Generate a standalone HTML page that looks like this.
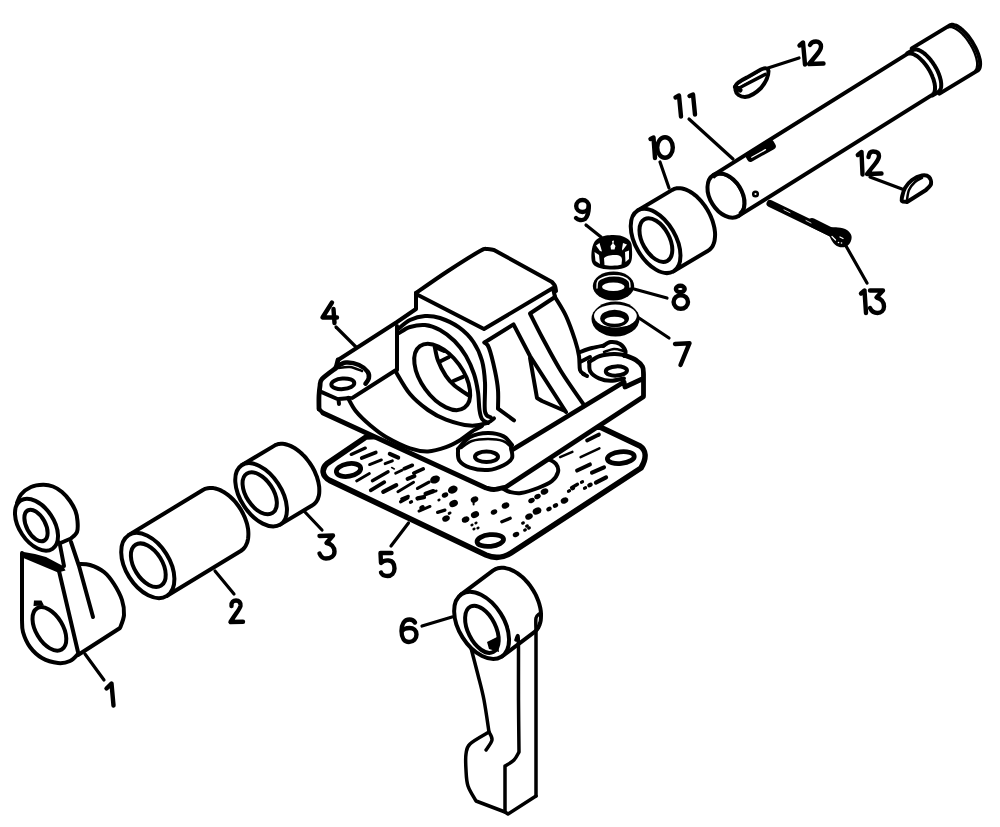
<!DOCTYPE html>
<html><head><meta charset="utf-8"><title>Exploded view</title>
<style>
html,body{margin:0;padding:0;background:#fff;}
body{width:1000px;height:827px;overflow:hidden;}
svg{display:block;}
.l{fill:none;stroke:#000;stroke-width:4;stroke-linecap:round;stroke-linejoin:round;}
.w{fill:#fff;stroke:#000;stroke-width:4;stroke-linecap:round;stroke-linejoin:round;}
.f{fill:#fff;stroke:none;}
.t{stroke-width:4.8!important;}
.g{stroke-width:5.6!important;}
.n{stroke-width:3.5!important;}
.k{fill:#000;stroke:none;}
.s{fill:none;stroke:#000;stroke-width:3;stroke-linecap:round;}
.d path,.d ellipse{fill:none;stroke:#000;stroke-width:4.4;stroke-linecap:round;stroke-linejoin:round;}
</style></head>
<body>
<svg width="1000" height="827" viewBox="0 0 1000 827">
<rect width="1000" height="827" fill="#fff"/>
<g id="p1">
<path class="f" d="M79.0,564.0 C80.8,564.2 85.8,563.7 90.0,565.0 C94.2,566.3 100.0,568.8 104.0,572.0 C108.0,575.2 111.0,579.3 114.0,584.0 C117.0,588.7 120.3,594.8 122.0,600.0 C123.7,605.2 124.3,610.3 124.0,615.0 C123.7,619.7 120.7,625.8 120.0,628.0 L78,655 L59,572 Z"/>
<path class="l" d="M79.0,564.0 C80.8,564.2 85.8,563.7 90.0,565.0 C94.2,566.3 100.0,568.8 104.0,572.0 C108.0,575.2 111.0,579.3 114.0,584.0 C117.0,588.7 120.3,594.8 122.0,600.0 C123.7,605.2 124.3,610.3 124.0,615.0 C123.7,619.7 120.7,625.8 120.0,628.0 L78,655"/>
<path class="f" d="M22,553 L63,569 L78,652 C76.7,653.5 73.3,659.2 70.0,661.0 C66.7,662.8 62.7,663.5 58.0,663.0 C53.3,662.5 46.7,660.7 42.0,658.0 C37.3,655.3 33.2,651.3 30.0,647.0 C26.8,642.7 24.3,636.5 23.0,632.0 C21.7,627.5 22.2,622.0 22.0,620.0 Z"/>
<path class="l" d="M22,553 L22,620 C22.2,622.0 21.7,627.5 23.0,632.0 C24.3,636.5 26.8,642.7 30.0,647.0 C33.2,651.3 37.3,655.3 42.0,658.0 C46.7,660.7 53.3,662.5 58.0,663.0 C62.7,663.5 66.7,662.5 70.0,661.0 C73.3,659.5 76.7,655.2 78.0,654.0"/>
<path class="l" d="M59,571 L78,652"/>
<path class="l" d="M71,542 L79,566 L93,617"/>
<path class="k" d="M21,551.5 L35,554 L46,557 L63,566 L65.5,570.5 L58,572.5 L21,557 Z"/>
<path class="l" d="M60,545 L64,566"/>
<path class="w" d="M17.0,503.0 C17.7,501.6 18.7,497.2 21.0,494.5 C23.3,491.8 27.3,488.6 31.0,487.0 C34.7,485.4 39.3,484.9 43.0,484.8 C46.7,484.7 49.8,485.3 53.0,486.5 C56.2,487.7 59.2,489.6 62.0,492.0 C64.8,494.4 67.8,497.8 70.0,501.0 C72.2,504.2 74.2,507.7 75.5,511.0 C76.8,514.3 77.2,517.5 77.5,521.0 C77.8,524.5 78.1,529.1 77.0,532.0 C75.9,534.9 72.0,537.4 71.0,538.5 L60.5,543 L40,535 Z"/>
<ellipse class="w" cx="36.5" cy="524.7" rx="17.3" ry="28.9" transform="rotate(-33.5 36.5 524.7)"/>
<ellipse class="l" cx="36" cy="525.5" rx="9.4" ry="17.2" transform="rotate(-28.4 36 525.5)"/>
<ellipse class="l" cx="49.4" cy="628.9" rx="13.5" ry="24" transform="rotate(-30.8 49.4 628.9)"/>
<path class="k" d="M33.5,606 L34,600.5 L41.5,600.5 L44,605.5 Z"/>
<path class="l" d="M85,654 L104,680" style="stroke-width:3.2"/>
</g>
<g id="p2">
<path class="w" d="M128.9,535.0 L202.9,490.0 L204.4,489.2 L206.0,488.6 L207.8,488.2 L209.6,488.0 L211.5,488.0 L213.4,488.1 L215.4,488.5 L217.5,489.1 L219.6,489.9 L221.7,490.9 L223.7,492.0 L225.8,493.4 L227.9,494.9 L229.9,496.5 L231.8,498.3 L233.8,500.2 L235.6,502.3 L237.3,504.5 L239.0,506.8 L240.5,509.1 L241.9,511.5 L243.2,514.0 L244.4,516.6 L245.4,519.1 L246.3,521.7 L247.1,524.2 L247.6,526.7 L248.1,529.2 L248.3,531.7 L248.4,534.0 L248.3,536.3 L248.1,538.5 L247.7,540.6 L247.2,542.5 L246.4,544.3 L245.6,546.0 L244.6,547.5 L243.4,548.9 L242.1,550.0 L240.7,551.0 L166.7,596.0 Z"/>
<ellipse class="w" cx="147.8" cy="565.5" rx="21.9" ry="35.9" transform="rotate(-32.1 147.8 565.5)"/>
<ellipse class="l" cx="148.3" cy="565.2" rx="14" ry="24.1" transform="rotate(-31.9 148.3 565.2)"/>
<path class="l" d="M215,571 L234,594" style="stroke-width:3.2"/>
</g>
<g id="p3">
<path class="w" d="M242.1,465.0 L274.5,445.6 L275.9,444.8 L277.5,444.3 L279.1,443.9 L280.8,443.8 L282.6,443.8 L284.5,444.0 L286.4,444.5 L288.4,445.1 L290.4,445.9 L292.4,446.9 L294.5,448.0 L296.5,449.4 L298.5,450.9 L300.5,452.5 L302.4,454.3 L304.3,456.2 L306.1,458.2 L307.8,460.4 L309.5,462.6 L311.0,464.9 L312.5,467.3 L313.8,469.7 L315.0,472.2 L316.0,474.7 L317.0,477.1 L317.7,479.6 L318.4,482.1 L318.8,484.5 L319.2,486.8 L319.3,489.1 L319.3,491.3 L319.2,493.4 L318.9,495.4 L318.4,497.2 L317.8,499.0 L317.0,500.5 L316.1,502.0 L315.0,503.2 L313.8,504.3 L312.5,505.2 L280.1,524.6 Z"/>
<ellipse class="w" cx="261.1" cy="494.8" rx="20.4" ry="35.4" transform="rotate(-33.3 261.1 494.8)"/>
<ellipse class="l" cx="259.7" cy="493.3" rx="13.5" ry="23.5" transform="rotate(-33.3 259.7 493.3)"/>
<path class="l" d="M304,511 L322,530" style="stroke-width:3.2"/>
</g>
<g id="p5">
<path class="w g" d="M327,463.6 L366,437 L600,427 L640,446 C646,450 647,458 641,468 L511,553 C503,558 495,559 486,555 L329.6,480.4 C322,476 321,469 327,463.6 Z"/>
<ellipse class="l" cx="348.5" cy="470" rx="12.3" ry="6.3" transform="rotate(-10 348.5 470)" style="stroke-width:4.8"/>
<ellipse class="l" cx="490.3" cy="540.5" rx="13.3" ry="5.8" transform="rotate(-6 490.3 540.5)" style="stroke-width:4.8"/>
<ellipse class="l" cx="620.8" cy="457.6" rx="13.5" ry="5.8" transform="rotate(-6 620.8 457.6)" style="stroke-width:4.8"/>
<path class="l" d="M548.0,459.0 C549.3,459.8 554.3,461.8 556.0,464.0 C557.7,466.2 558.7,469.2 558.0,472.0 C557.3,474.8 555.3,478.3 552.0,481.0 C548.7,483.7 543.2,486.0 538.0,488.0 C532.8,490.0 525.7,492.3 521.0,493.0 C516.3,493.7 513.2,492.8 510.0,492.0 C506.8,491.2 503.3,488.7 502.0,488.0"/>
<path class="s" d="M351.2,454.4 L365.3,448.1" style="stroke-width:3.28"/>
<path class="s" d="M361.7,458.0 L375.8,452.5" style="stroke-width:3.69"/>
<path class="s" d="M369.6,464.6 L381.4,459.9" style="stroke-width:2.87"/>
<path class="s" d="M385.1,463.7 L392.4,460.8" style="stroke-width:2.87"/>
<path class="s" d="M389.8,453.8 L398.2,457.7" style="stroke-width:4.1"/>
<path class="s" d="M391.7,467.6 L394.3,468.9" style="stroke-width:1.64"/>
<path class="s" d="M395.6,473.2 L401.9,470.3" style="stroke-width:2.87"/>
<path class="s" d="M404.2,468.7 L412.3,465.3" style="stroke-width:3.69"/>
<path class="s" d="M413.8,473.1 L423.2,468.9" style="stroke-width:3.69"/>
<path class="s" d="M407.6,478.8 L414.4,476.2" style="stroke-width:4.1"/>
<path class="s" d="M356.6,480.9 L369.4,473.6" style="stroke-width:2.87"/>
<path class="s" d="M372.4,480.7 L388.1,471.8" style="stroke-width:3.28"/>
<path class="s" d="M370.7,490.3 L384.3,482.2" style="stroke-width:3.69"/>
<path class="s" d="M383.2,491.9 L396.3,485.1" style="stroke-width:4.1"/>
<path class="s" d="M397.9,491.7 L413.6,482.3" style="stroke-width:2.87"/>
<path class="s" d="M417.5,488.4 L429.0,482.1" style="stroke-width:3.28"/>
<path class="s" d="M401.6,498.8 L408.4,496.2" style="stroke-width:2.87"/>
<path class="s" d="M425.7,493.8 L433.3,491.2" style="stroke-width:4.51"/>
<path class="s" d="M417.6,498.4 L423.9,497.1" style="stroke-width:4.51"/>
<path class="s" d="M400.6,501.7 L407.9,497.8" style="stroke-width:3.28"/>
<path class="s" d="M419.0,511.1 L430.0,506.4" style="stroke-width:2.87"/>
<path class="s" d="M437.6,512.3 L444.9,510.2" style="stroke-width:3.28"/>
<path class="s" d="M501.8,521.7 L510.2,518.3" style="stroke-width:3.28"/>
<path class="s" d="M560.1,457.1 L572.4,451.9" style="stroke-width:2.46"/>
<path class="s" d="M587.0,440.5 L599.0,434.5" style="stroke-width:3.69"/>
<path class="s" d="M580.6,457.2 L599.4,448.3" style="stroke-width:2.46"/>
<path class="s" d="M577.1,470.5 L589.9,464.5" style="stroke-width:4.1"/>
<path class="s" d="M592.0,472.6 L604.0,467.4" style="stroke-width:4.1"/>
<path class="s" d="M595.9,482.6 L606.1,477.4" style="stroke-width:4.1"/>
<path class="s" d="M571.5,487.7 L577.5,484.3" style="stroke-width:3.28"/>
<ellipse class="k" cx="435" cy="479.5" rx="5.04" ry="3.825" transform="rotate(-25 435 479.5)"/>
<ellipse class="k" cx="436" cy="491" rx="1.68" ry="1.275" transform="rotate(-25 436 491)"/>
<ellipse class="k" cx="411" cy="502" rx="2.24" ry="1.7" transform="rotate(-25 411 502)"/>
<ellipse class="k" cx="422" cy="507.5" rx="2.8" ry="2.125" transform="rotate(-25 422 507.5)"/>
<ellipse class="k" cx="445" cy="495" rx="3.36" ry="2.55" transform="rotate(-25 445 495)"/>
<ellipse class="k" cx="439" cy="500" rx="1.68" ry="1.275" transform="rotate(-25 439 500)"/>
<ellipse class="k" cx="452.8" cy="489.6" rx="5.04" ry="3.825" transform="rotate(-25 452.8 489.6)"/>
<ellipse class="k" cx="453.6" cy="503.5" rx="4.48" ry="3.4" transform="rotate(-25 453.6 503.5)"/>
<ellipse class="k" cx="449.6" cy="513.2" rx="2.016" ry="1.53" transform="rotate(-25 449.6 513.2)"/>
<ellipse class="k" cx="446" cy="518.5" rx="3.92" ry="2.975" transform="rotate(-25 446 518.5)"/>
<ellipse class="k" cx="465.6" cy="519.5" rx="3.92" ry="2.975" transform="rotate(-25 465.6 519.5)"/>
<ellipse class="k" cx="475" cy="514.6" rx="4.256" ry="3.23" transform="rotate(-25 475 514.6)"/>
<ellipse class="k" cx="474.5" cy="499.5" rx="3.92" ry="2.975" transform="rotate(-25 474.5 499.5)"/>
<ellipse class="k" cx="505.5" cy="505.5" rx="3.92" ry="2.975" transform="rotate(-25 505.5 505.5)"/>
<ellipse class="k" cx="494" cy="512" rx="3.36" ry="2.55" transform="rotate(-25 494 512)"/>
<ellipse class="k" cx="472" cy="525" rx="1.68" ry="1.275" transform="rotate(-25 472 525)"/>
<ellipse class="k" cx="476" cy="523" rx="1.68" ry="1.275" transform="rotate(-25 476 523)"/>
<ellipse class="k" cx="478" cy="528" rx="1.68" ry="1.275" transform="rotate(-25 478 528)"/>
<ellipse class="k" cx="474" cy="529" rx="1.68" ry="1.275" transform="rotate(-25 474 529)"/>
<ellipse class="k" cx="531.5" cy="500.5" rx="3.36" ry="2.55" transform="rotate(-25 531.5 500.5)"/>
<ellipse class="k" cx="537.5" cy="496.5" rx="3.36" ry="2.55" transform="rotate(-25 537.5 496.5)"/>
<ellipse class="k" cx="544.5" cy="491.5" rx="3.92" ry="2.975" transform="rotate(-25 544.5 491.5)"/>
<ellipse class="k" cx="537" cy="511" rx="4.48" ry="3.4" transform="rotate(-25 537 511)"/>
<ellipse class="k" cx="529" cy="516.5" rx="3.92" ry="2.975" transform="rotate(-25 529 516.5)"/>
<ellipse class="k" cx="523" cy="523" rx="2.016" ry="1.53" transform="rotate(-25 523 523)"/>
<ellipse class="k" cx="527" cy="526" rx="2.016" ry="1.53" transform="rotate(-25 527 526)"/>
<ellipse class="k" cx="525" cy="530" rx="2.016" ry="1.53" transform="rotate(-25 525 530)"/>
<ellipse class="k" cx="529" cy="528" rx="2.016" ry="1.53" transform="rotate(-25 529 528)"/>
<ellipse class="k" cx="516" cy="534.5" rx="3.36" ry="2.55" transform="rotate(-25 516 534.5)"/>
<ellipse class="k" cx="569" cy="491" rx="2.24" ry="1.7" transform="rotate(-25 569 491)"/>
<ellipse class="k" cx="573" cy="488.5" rx="2.24" ry="1.7" transform="rotate(-25 573 488.5)"/>
<ellipse class="k" cx="549" cy="509" rx="2.8" ry="2.125" transform="rotate(-25 549 509)"/>
<ellipse class="k" cx="555.5" cy="505.5" rx="2.8" ry="2.125" transform="rotate(-25 555.5 505.5)"/>
<ellipse class="k" cx="564.5" cy="500.5" rx="3.92" ry="2.975" transform="rotate(-25 564.5 500.5)"/>
<ellipse class="k" cx="582" cy="482" rx="2.24" ry="1.7" transform="rotate(-25 582 482)"/>
<ellipse class="k" cx="585" cy="488" rx="2.24" ry="1.7" transform="rotate(-25 585 488)"/>
<ellipse class="k" cx="590" cy="485" rx="2.8" ry="2.125" transform="rotate(-25 590 485)"/>
<ellipse class="k" cx="530.5" cy="516.5" rx="1.68" ry="1.275" transform="rotate(-25 530.5 516.5)"/>
<path class="s" d="M473.6,502 L473.6,504.5" style="stroke-width:2"/>
<path class="l" d="M408.5,523 L391,546" style="stroke-width:3.2"/>
</g>
<g id="p4">
<path class="f" d="M319.0,386.0 L322.0,379.0 L336.0,368.0 L338.0,360.0 L416.0,309.0 L416.0,293.0 L480.0,251.0 L494.0,250.0 L552.0,283.0 L556.0,290.0 L555.0,297.0 L566.0,316.0 L575.0,340.0 L579.0,356.0 L580.0,370.0 L584.0,373.0 L589.0,362.0 L604.0,345.0 L611.0,342.0 L626.0,351.0 L636.0,360.0 L642.5,367.0 L643.5,374.0 L643.5,396.0 L639.6,397.7 L506.0,487.0 L494.0,489.5 L482.0,487.0 L323.0,413.0 L319.0,409.0 Z"/>
<path class="l" d="M338,360 L397,322 L416,309 L416,293"/>
<path class="l" d="M416.0,293.0 C421.3,289.3 437.3,278.0 448.0,271.0 C458.7,264.0 473.5,254.7 480.0,251.0 C486.5,247.3 484.7,249.2 487.0,249.0 C489.3,248.8 492.8,249.8 494.0,250.0 L552,282 C552.5,282.7 554.3,284.5 555.0,286.0 C555.7,287.5 555.8,290.2 556.0,291.0"/>
<path class="l" d="M416,294 L484,329 L553,288 L555,297"/>
<path class="l" d="M555.0,297.0 C556.8,300.2 562.7,308.8 566.0,316.0 C569.3,323.2 572.8,333.3 575.0,340.0 C577.2,346.7 578.2,351.0 579.0,356.0 C579.8,361.0 579.2,367.0 580.0,370.0 C580.8,373.0 583.3,373.3 584.0,374.0"/>
<path class="l" d="M555,297 L530,313.5 C532.1,317.6 537.4,328.5 542.5,338.0 C547.6,347.5 553.8,359.5 560.7,370.7 C567.6,381.9 580.1,399.3 584.0,405.0"/>
<path class="l" d="M484.5,342.5 L513.5,324.4 L530,356 L566,412"/>
<path class="l" d="M530.0,358.0 C530.6,361.3 532.3,371.3 533.5,378.0 C534.7,384.7 536.4,394.7 537.0,398.0 L542,401 L564,410.5"/>
<path class="l" d="M484.5,342.5 C485.2,343.4 487.2,343.2 489.0,348.0 C490.8,352.8 493.5,364.0 495.0,371.0 C496.5,378.0 497.5,383.7 498.0,390.0 C498.5,396.3 498.0,405.6 498.0,408.7 L514,420.3"/>
<path class="l t" d="M512,450 L624,382 L625,387 L641.6,379.3"/>
<path class="l t" d="M323,413 L486,488 C487.3,488.2 490.7,489.7 494.0,489.5 C497.3,489.3 504.0,487.4 506.0,487.0 L643,397"/>
<path class="l t" d="M319.0,409.0 C319.0,406.8 318.8,399.8 319.0,396.0 C319.2,392.2 319.5,388.8 320.0,386.0 C320.5,383.2 319.3,382.0 322.0,379.0 C324.7,376.0 333.7,369.8 336.0,368.0 L338,360"/>
<path class="l" d="M319,409 L323,413"/>
<path class="l" d="M320,391.3 L338.5,399.5 L339,404 M339,399 L350,398"/>
<path class="l" d="M336.0,367.0 C337.7,366.2 342.2,362.8 346.0,362.5 C349.8,362.2 355.4,363.4 359.0,365.0 C362.6,366.6 366.1,369.6 367.7,371.8 C369.3,374.0 369.2,376.3 368.8,378.3 C368.4,380.3 366.1,382.8 365.5,383.7" style="stroke-width:4.6"/>
<path class="l" d="M338.0,368.0 C340.0,367.8 346.0,366.5 350.0,367.0 C354.0,367.5 360.0,370.3 362.0,371.0" style="stroke-width:2.5"/>
<ellipse class="w" cx="342.8" cy="383.8" rx="11.5" ry="5.3" transform="rotate(-4 342.8 383.8)"/>
<path class="l" d="M352.4,397.9 L394.9,370.7 L397,370 L397,326"/>
<path class="l" d="M348.0,397.9 C349.3,400.1 351.9,406.3 355.7,411.0 C359.5,415.7 365.9,421.7 371.0,426.0 C376.1,430.3 379.5,433.3 386.0,437.0 C392.5,440.7 403.0,446.0 410.0,448.4 C417.0,450.8 422.0,451.6 428.0,451.4 C434.0,451.2 440.6,449.1 446.0,447.2 C451.4,445.3 455.8,442.8 460.4,440.0 C465.0,437.2 470.0,432.7 473.6,430.4 C477.2,428.1 480.6,426.7 482.0,426.0"/>
<path class="l" d="M396.0,372.0 C398.3,375.7 404.7,387.7 410.0,394.0 C415.3,400.3 422.0,405.7 428.0,410.0 C434.0,414.3 439.0,417.0 446.0,419.6 C453.0,422.2 463.2,425.0 470.0,425.6 C476.8,426.2 482.8,424.4 486.8,423.2 C490.8,422.0 492.8,419.2 494.0,418.4"/>
<path class="l" d="M398.0,329.0 C400.0,327.5 405.5,322.2 410.0,320.0 C414.5,317.8 420.0,316.3 425.0,316.0 C430.0,315.7 434.3,316.1 440.0,318.0 C445.7,319.9 453.4,323.4 459.0,327.4 C464.6,331.4 469.6,336.4 473.4,342.0 C477.2,347.6 480.1,354.0 482.0,360.8 C483.9,367.6 484.5,374.1 485.0,382.6 C485.5,391.1 484.0,405.8 485.0,411.6 C486.0,417.4 489.8,416.4 490.8,417.4"/>
<path class="l" d="M399.0,333.0 C400.8,332.0 405.7,328.3 410.0,327.0 C414.3,325.7 420.0,324.5 425.0,325.0 C430.0,325.5 435.1,327.3 440.0,330.0 C444.9,332.7 450.2,336.7 454.5,341.0 C458.8,345.3 462.8,350.5 466.0,356.0 C469.2,361.5 472.0,368.0 474.0,374.0 C476.0,380.0 477.1,386.0 478.0,392.0 C478.9,398.0 478.8,405.5 479.5,410.0 C480.2,414.5 480.6,416.8 482.0,419.0 C483.4,421.2 487.0,422.3 488.0,423.0"/>
<ellipse class="w" cx="442.2" cy="376.9" rx="20.9" ry="38" transform="rotate(-35.9 442.2 376.9)"/>
<path class="l" d="M434.8,347.0 C435.3,349.2 436.2,355.7 438.0,360.5 C439.8,365.3 443.0,371.5 445.7,375.7 C448.4,379.9 450.6,382.2 454.4,385.5 C458.2,388.8 466.1,393.7 468.5,395.3"/>
<path class="k" d="M433,346 L444,352 L436,349 Z"/>
<path class="l" d="M434.8,347 L444,351"/>
<path class="l" d="M440,361.5 L449,357 M453.3,381 L463,376.8"/>
<path class="f" d="M458.0,449.6 C458.2,451.4 457.2,457.4 459.2,460.4 C461.2,463.4 465.2,466.0 470.0,467.6 C474.8,469.2 482.4,470.4 488.0,470.0 C493.6,469.6 499.6,467.2 503.6,465.2 C507.6,463.2 510.8,460.4 512.0,458.0 C513.2,455.6 511.2,452.0 511.0,450.8"/>
<path class="w" d="M458,449 C460.0,447.0 465.0,439.7 470.0,437.0 C475.0,434.3 482.4,433.1 488.0,433.0 C493.6,432.9 499.6,434.4 503.6,436.4 C507.6,438.4 510.6,443.6 512.0,445.0"/>
<path class="l" d="M458.0,449.6 C458.2,451.4 457.2,457.4 459.2,460.4 C461.2,463.4 465.2,466.0 470.0,467.6 C474.8,469.2 482.4,470.4 488.0,470.0 C493.6,469.6 499.6,467.2 503.6,465.2 C507.6,463.2 510.8,460.9 512.0,458.0 C513.2,455.1 511.2,449.7 511.0,448.0"/>
<path class="l" d="M461.0,448.0 C462.8,446.8 467.5,442.5 472.0,441.0 C476.5,439.5 482.8,439.0 488.0,439.0 C493.2,439.0 499.2,439.7 503.0,441.0 C506.8,442.3 509.7,446.0 511.0,447.0" style="stroke-width:2.5"/>
<ellipse class="w" cx="486.5" cy="456.8" rx="11.5" ry="5.2"/>
<path class="l" d="M580.0,352.0 C582.0,351.3 588.0,349.1 592.0,348.0 C596.0,346.9 602.0,345.9 604.0,345.5"/>
<path class="l" d="M603.0,346.0 C604.3,345.3 607.8,342.3 610.6,342.0 C613.4,341.7 617.5,342.4 620.0,344.0 C622.5,345.6 624.9,349.3 625.6,351.3 C626.3,353.3 624.3,355.2 624.0,356.0"/>
<path class="l" d="M604.0,352.0 C605.7,351.5 610.7,349.2 614.0,349.0 C617.3,348.8 622.3,350.7 624.0,351.0" style="stroke-width:2.5"/>
<path class="l" d="M589.3,362.0 C589.5,363.6 588.7,368.9 590.3,371.6 C591.9,374.3 595.6,376.9 599.0,378.4 C602.4,379.9 606.4,380.8 610.6,380.8 C614.8,380.8 621.8,378.8 624.0,378.4"/>
<path class="l t" d="M624.0,355.0 C626.0,355.8 632.7,358.0 635.8,360.0 C638.9,362.0 641.2,364.5 642.5,366.8 C643.8,369.1 643.3,372.8 643.5,374.0 L643.5,396"/>
<path class="l" d="M589.0,362.0 C590.8,361.0 595.8,357.3 600.0,356.0 C604.2,354.7 610.0,354.2 614.0,354.0 C618.0,353.8 622.3,354.8 624.0,355.0"/>
<ellipse class="w" cx="616.4" cy="371" rx="10.6" ry="4.6" transform="rotate(-3 616.4 371)"/>
<path class="l" d="M580,362 L590,357 M583,374 L587,376"/>
<path class="l" d="M336,327 L356,347" style="stroke-width:3.2"/>
</g>
<g id="p6">
<path class="f" d="M472,640 L536,615 L536,796 L508,814 L476,801 C474.7,798.5 469.7,791.2 468.0,786.0 C466.3,780.8 466.3,775.3 466.0,770.0 C465.7,764.7 465.3,758.3 466.0,754.0 C466.7,749.7 466.2,747.7 470.0,744.0 C473.8,740.3 485.8,734.0 489.0,732.0 C488.2,726.7 485.8,709.5 484.0,700.0 C482.2,690.5 480.2,683.7 478.0,675.0 C475.8,666.3 472.2,652.5 471.0,648.0 Z"/>
<path class="l n" d="M471.0,648.0 C472.2,652.5 475.8,666.3 478.0,675.0 C480.2,683.7 482.2,690.5 484.0,700.0 C485.8,709.5 488.2,726.7 489.0,732.0 C485.8,734.0 473.8,740.3 470.0,744.0 C466.2,747.7 466.7,749.7 466.0,754.0 C465.3,758.3 465.7,764.7 466.0,770.0 C466.3,775.3 466.3,780.8 468.0,786.0 C469.7,791.2 474.7,798.5 476.0,801.0 L505,812 L508,814 L536,796"/>
<path class="l n" d="M489.0,732.0 C489.5,733.3 492.5,737.0 492.0,740.0 C491.5,743.0 487.0,748.3 486.0,750.0"/>
<path class="w" d="M460.9,594.6 L492.9,570.6 L494.4,569.7 L496.0,568.9 L497.7,568.3 L499.5,568.0 L501.4,567.8 L503.4,567.8 L505.4,568.1 L507.5,568.6 L509.6,569.2 L511.7,570.1 L513.9,571.1 L516.0,572.4 L518.2,573.8 L520.3,575.4 L522.3,577.1 L524.4,579.0 L526.3,581.1 L528.2,583.2 L530.0,585.5 L531.6,587.9 L533.2,590.3 L534.7,592.9 L536.0,595.4 L537.1,598.0 L538.2,600.7 L539.1,603.3 L539.8,605.9 L540.4,608.5 L540.8,611.1 L541.0,613.6 L541.0,616.0 L540.9,618.3 L540.7,620.6 L540.2,622.7 L539.6,624.6 L538.8,626.5 L537.9,628.2 L536.9,629.7 L535.6,631.0 L534.3,632.2 L502.3,656.2 Z"/>
<ellipse class="w" cx="481.6" cy="625.4" rx="22.5" ry="37.1" transform="rotate(-32.2 481.6 625.4)"/>
<ellipse class="l" cx="481.9" cy="629.3" rx="13.9" ry="25.4" transform="rotate(-26.4 481.9 629.3)"/>
<path class="k" d="M487,642 L497,637 L499,652 L489,649 Z"/>
<path class="l n" d="M516.0,640.0 C516.3,639.3 517.6,634.3 518.0,636.0 C518.4,637.7 518.4,639.3 518.5,650.0 C518.6,660.7 518.4,683.0 518.5,700.0 C518.6,717.0 518.9,743.3 519.0,752.0 C518.2,753.3 516.3,757.7 514.0,760.0 C511.7,762.3 506.5,765.0 505.0,766.0 L505,812"/>
<path class="l n" d="M539.0,614.0 C538.5,614.7 536.5,615.3 536.0,618.0 C535.5,620.7 536.0,628.0 536.0,630.0 L536,796"/>
<path class="l" d="M422,626 L452,617" style="stroke-width:3.2"/>
</g>
<g id="p789">
<path class="k" d="M592.0,249.0 C592.7,245.3 593.7,242.2 596.0,240.0 C598.3,237.8 602.0,236.2 606.0,235.5 C610.0,234.8 616.0,234.6 620.0,235.5 C624.0,236.4 628.0,238.6 630.0,241.0 C632.0,243.4 631.8,246.5 632.0,250.0 C632.2,253.5 632.3,259.0 631.0,262.0 C629.7,265.0 627.5,266.8 624.0,268.0 C620.5,269.2 614.3,269.6 610.0,269.5 C605.7,269.4 601.0,268.8 598.0,267.5 C595.0,266.2 593.0,265.1 592.0,262.0 C591.0,258.9 591.3,252.7 592.0,249.0 Z"/>
<path class="f" d="M604,258 C606,255.5 612,254.5 617,255 C620,255.5 622,257 622,259.5 L621.5,264.5 C618,266 608,266 604.5,265 Z"/>
<path class="f" d="M594.5,252 L599,255 L600,264 L595.5,261 Z"/>
<path class="f" d="M625,252 L629,250.5 L629,259 L625.5,262 Z"/>
<path class="f" d="M612,241 L614,240.5 L613.5,243.5 L615.5,246 L614.5,249.5 L611,249.5 L610.5,246 L612.5,243.5 Z"/>
<path class="f" d="M596,245.5 L599.5,243 L602,251.5 L600,251 Z"/>
<path class="f" d="M623,243 L627,244.5 L622.5,250.5 L622,249 Z"/>
<path class="l" d="M586,225 L601,237" style="stroke-width:3.2"/>
<ellipse class="k" cx="613.5" cy="286" rx="20.7" ry="14.6"/>
<path class="l" d="M597.0,288.0 C597.2,286.8 596.7,282.8 598.0,281.0 C599.3,279.2 602.3,277.9 605.0,277.0 C607.7,276.1 611.0,275.8 614.0,275.8 C617.0,275.8 620.5,276.1 623.0,277.0 C625.5,277.9 627.8,279.3 629.0,281.0 C630.2,282.7 629.8,286.0 630.0,287.0" style="stroke:#fff;stroke-width:1.4"/>
<ellipse class="f" cx="613.3" cy="286.7" rx="11.3" ry="4.3"/>
<path class="l" d="M634,289 L667,298" style="stroke-width:3.2"/>
<ellipse class="k" cx="615.5" cy="319" rx="24" ry="17.5"/>
<ellipse class="f" cx="615.4" cy="316" rx="21.4" ry="11.5"/>
<ellipse class="k" cx="614.6" cy="318.5" rx="14.4" ry="8.7"/>
<ellipse class="f" cx="614.5" cy="320.2" rx="10" ry="3.5"/>
<path class="l" d="M639,318 L669,338" style="stroke-width:3.2"/>
</g>
<g id="p10">
<path class="w" d="M637.7,210.5 L672.3,189.9 L673.7,189.2 L675.2,188.6 L676.8,188.3 L678.5,188.2 L680.3,188.3 L682.1,188.5 L684.0,189.0 L685.9,189.6 L687.8,190.5 L689.8,191.5 L691.7,192.7 L693.7,194.1 L695.6,195.6 L697.5,197.3 L699.3,199.2 L701.1,201.1 L702.8,203.2 L704.5,205.4 L706.0,207.7 L707.5,210.0 L708.8,212.4 L710.1,214.9 L711.2,217.4 L712.2,219.9 L713.0,222.4 L713.7,225.0 L714.3,227.4 L714.7,229.9 L715.0,232.2 L715.1,234.5 L715.0,236.8 L714.8,238.9 L714.5,240.9 L714.0,242.7 L713.3,244.5 L712.6,246.1 L711.6,247.5 L710.6,248.7 L709.4,249.8 L708.1,250.7 L673.5,271.3 Z"/>
<ellipse class="w" cx="655.6" cy="240.9" rx="20.1" ry="35.3" transform="rotate(-30.3 655.6 240.9)"/>
<ellipse class="l" cx="655.9" cy="240.1" rx="13.5" ry="23.7" transform="rotate(-28.7 655.9 240.1)"/>
<path class="l" d="M669,188 L660,162" style="stroke-width:3.2"/>
</g>
<g id="p11">
<path class="w" d="M911.7,48.4 L949.7,25.4 L950.5,25.1 L951.3,24.8 L952.2,24.8 L953.2,24.8 L954.2,25.1 L955.3,25.4 L956.5,25.9 L957.7,26.5 L958.9,27.3 L960.2,28.2 L961.4,29.2 L962.7,30.3 L964.0,31.6 L965.3,32.9 L966.6,34.3 L967.9,35.8 L969.1,37.4 L970.3,39.1 L971.5,40.8 L972.6,42.6 L973.6,44.4 L974.6,46.2 L975.6,48.0 L976.4,49.8 L977.2,51.6 L977.9,53.4 L978.5,55.2 L979.0,56.9 L979.4,58.5 L979.8,60.1 L980.0,61.6 L980.1,63.1 L980.1,64.4 L980.0,65.7 L979.8,66.8 L979.6,67.8 L979.2,68.7 L978.7,69.5 L978.1,70.1 L977.5,70.6 L939.5,93.6 Z"/>
<path class="l" d="M948.4,27.4 L949.4,27.2 L950.6,27.1 L951.8,27.2 L953.2,27.6 L954.6,28.2 L956.0,29.0 L957.6,30.0 L959.1,31.1 L960.7,32.5 L962.3,34.0 L963.8,35.6 L965.4,37.4 L966.9,39.4 L968.3,41.4 L969.7,43.5 L971.0,45.6 L972.2,47.8 L973.3,50.0 L974.3,52.2 L975.1,54.4 L975.8,56.5 L976.4,58.5 L976.8,60.5 L977.1,62.4 L977.2,64.1 L977.1,65.7 L976.9,67.1 L976.6,68.4 L976.1,69.5 L975.4,70.4" style="stroke-width:2.3"/>
<path class="w" d="M906.9,53.6 L912.9,50.1 L913.6,49.7 L914.4,49.5 L915.3,49.4 L916.3,49.5 L917.3,49.6 L918.4,50.0 L919.5,50.4 L920.6,51.0 L921.8,51.7 L923.0,52.5 L924.2,53.4 L925.4,54.4 L926.7,55.6 L927.9,56.8 L929.1,58.1 L930.3,59.5 L931.4,61.0 L932.6,62.5 L933.6,64.1 L934.7,65.7 L935.6,67.4 L936.6,69.0 L937.4,70.7 L938.2,72.4 L938.9,74.1 L939.5,75.8 L940.0,77.4 L940.4,79.0 L940.8,80.6 L941.0,82.1 L941.2,83.5 L941.2,84.8 L941.2,86.1 L941.1,87.2 L940.8,88.3 L940.5,89.3 L940.1,90.1 L939.6,90.8 L939.0,91.4 L938.3,91.9 L932.3,95.4 Z"/>
<path class="w" d="M713.4,175.1 L907.0,54.1 L907.7,53.7 L908.5,53.5 L909.4,53.3 L910.4,53.4 L911.4,53.5 L912.4,53.8 L913.5,54.2 L914.6,54.7 L915.8,55.4 L917.0,56.1 L918.2,57.0 L919.4,58.0 L920.6,59.1 L921.8,60.3 L923.0,61.5 L924.2,62.9 L925.3,64.3 L926.4,65.8 L927.5,67.3 L928.5,68.9 L929.5,70.6 L930.4,72.2 L931.2,73.9 L932.0,75.5 L932.6,77.2 L933.3,78.8 L933.8,80.4 L934.2,82.0 L934.6,83.5 L934.8,85.0 L935.0,86.4 L935.0,87.8 L935.0,89.0 L934.9,90.2 L934.7,91.2 L934.3,92.2 L933.9,93.1 L933.4,93.8 L932.9,94.4 L932.2,94.9 L738.6,215.9 Z"/>
<ellipse class="w" cx="726" cy="195.5" rx="16" ry="24" transform="rotate(-31.6 726 195.5)"/>
<path class="l" d="M714.1,177.3 L715.2,176.3 L716.4,175.5 L717.8,174.9 L719.2,174.6 L720.8,174.5 L722.4,174.6 L724.1,174.9 L725.9,175.5 L727.6,176.3 L729.4,177.4 L731.1,178.6 L732.8,180.0 L734.5,181.6 L736.0,183.3 L737.5,185.1 L738.8,187.1 L740.0,189.2 L741.1,191.3 L742.0,193.4 L742.7,195.6 L743.2,197.8 L743.6,199.9 L743.8,201.9 L743.7,203.9 L743.5,205.8 L743.1,207.5 L742.6,209.1 L741.8,210.5 L740.9,211.7 L739.8,212.7" style="stroke-width:2.3"/>
<rect x="744.5" y="145.5" width="32" height="10.5" rx="3.5" transform="rotate(-29 760.5 150.7)" fill="#000"/>
<rect x="749" y="151.5" width="17" height="1.4" rx="0.7" transform="rotate(-29 760.5 150.7)" fill="#fff"/>
<circle class="l" cx="755.5" cy="194" r="2.3" style="stroke-width:2.5"/>
<path class="l" d="M689,119 L733,159" style="stroke-width:3.2"/>
</g>
<g id="p12">
<path class="w" d="M735.5,86 C736.5,82.5 742,80 748,77 L761,69.5 C765,67.5 768,68 768.5,71 C768.5,76 766,82 761,88 C756,93 750,96.5 745,97 C740,97 736,94 735.5,90 Z"/>
<path class="l" d="M737,89 L765,74.5" style="stroke-width:3.6"/>
<path class="l" d="M739,85.5 L762.5,72" style="stroke-width:1.1;stroke:#fff"/>
<path class="l" d="M735.5,87 L740,90" style="stroke-width:5"/>
<path class="l" d="M768,68 L799,58" style="stroke-width:3.2"/>
<path class="w" d="M902.0,197.0 C902.5,195.5 903.3,190.8 905.0,188.0 C906.7,185.2 909.2,182.1 912.0,180.0 C914.8,177.9 919.2,176.0 922.0,175.5 C924.8,175.0 927.5,175.6 929.0,177.0 C930.5,178.4 931.5,181.8 931.0,184.0 C930.5,186.2 926.8,189.0 926.0,190.0 L907,202 C906.2,201.8 902.8,201.8 902.0,201.0 C901.2,200.2 902.0,197.7 902.0,197.0"/>
<path class="l" d="M907.0,200.0 C907.3,198.3 907.7,193.0 909.0,190.0 C910.3,187.0 912.8,184.0 915.0,182.0 C917.2,180.0 920.8,178.7 922.0,178.0" style="stroke-width:2.5"/>
<path class="l" d="M870,177 L902,189" style="stroke-width:3.2"/>
</g>
<g id="p13">
<path class="l" d="M770,203.5 L832,233.5" style="stroke-width:7"/>
<path class="l" d="M812,222.5 L834,233.5" style="stroke-width:9"/>
<path class="l" d="M784,209.8 L790,212.7 M806,220.5 L811,223" style="stroke-width:0.8;stroke:#fff"/>
<path class="k" d="M828.0,229.0 C829.0,226.8 834.8,227.3 838.0,227.5 C841.2,227.7 844.8,228.6 847.0,230.0 C849.2,231.4 851.0,233.8 851.5,236.0 C852.0,238.2 851.1,241.2 850.0,243.0 C848.9,244.8 847.0,246.4 845.0,247.0 C843.0,247.6 840.2,247.5 838.0,246.5 C835.8,245.5 833.7,243.9 832.0,241.0 C830.3,238.1 827.0,231.2 828.0,229.0 Z"/>
<path class="l" d="M832,236.5 L835.5,240 M840,237 L843,238.5" style="stroke-width:1.3;stroke:#fff"/>
<ellipse class="f" cx="838.5" cy="242.5" rx="0.8" ry="0.8"/>
<ellipse class="f" cx="841.5" cy="243" rx="0.8" ry="0.8"/>
<path class="l" d="M846,246 L867,283" style="stroke-width:3.2"/>
</g>
<g class="d">
  <path d="M106.5,688.5 L111.5,683.5 L113.5,705.5"/>
  <path d="M231.5,606 C231,602 233.5,600.5 236,600.5 C239,600.5 241,602.5 240.5,606 C240,609 236,613 230.5,622 L243,621.8"/>
  <path d="M319.5,536 L333,535.5 L326.5,543 C331,543.5 334.5,547 334.5,551.5 C334.5,556 330.5,558.5 326,558.5 C322.5,558.5 320.5,556 319.5,553.5"/>
  <path d="M332,302.5 L322.5,317.5 L337,317.5 M333.5,309 L334.5,323"/>
  <path d="M391.5,553 L380.5,553 L381,563 C383,561 386,560 389,560.5 C392.5,561 394.5,564 394.5,568.5 C394.5,573 391.5,576 387.5,576 C384,576 382,575 381,572.5"/>
  <path d="M415,622.5 C413.5,620 411.5,619.5 409.5,619.5 C404,619.5 401.5,624.5 401.5,631 C401.5,638 404.5,642 409,642 C413.5,642 416.5,638.5 416.5,634.5 C416.5,630.5 413.5,628 409.5,628 C406,628 403,629.5 401.8,631.5"/>
  <path d="M675,344 L689.5,343.2 L680.5,365"/>
  <ellipse cx="680.3" cy="289" rx="4.4" ry="3.2"/>
  <ellipse cx="680.8" cy="302" rx="7.2" ry="6.8"/>
  <ellipse cx="582.5" cy="206" rx="6.3" ry="6"/>
  <path d="M588.8,206 C588.8,212 588,216 585,219 C582,221 578,220 576,218"/>
  <path d="M650.5,139 L653.5,137.5 L655,158"/>
  <ellipse cx="665" cy="147.5" rx="7.8" ry="10.3"/>
  <path d="M675.5,97.5 L679,95.5 L681,116.5 M689.5,96 L693,94.5 L695,114.5"/>
  <path d="M799.5,45.5 L803,42.5 L805,64.5"/>
  <path d="M810,45 C811,42.5 813.5,41.5 816,41.5 C819,41.5 821,43.5 821,46.5 C821,49.5 819,52 816.5,55 L809,64 L823.5,63.5"/>
  <path d="M857.8,155 L861.5,152 L862.5,174.5"/>
  <path d="M868.5,157 C869,153 871,151.5 873,151.5 C876.5,151.5 879,153 879,156 C879,159 877,161.5 875,164 L867,174 L881.5,173.5"/>
  <path d="M861,293.5 L864.5,290.5 L866,313"/>
  <path d="M870,290.5 L883,290.5 L876.5,297.5 C881,298.5 884,302 884,306.5 C884,310.5 881,313 877.5,313 C874,313 871.5,311 870,308"/>
</g>
</svg>
</body></html>
